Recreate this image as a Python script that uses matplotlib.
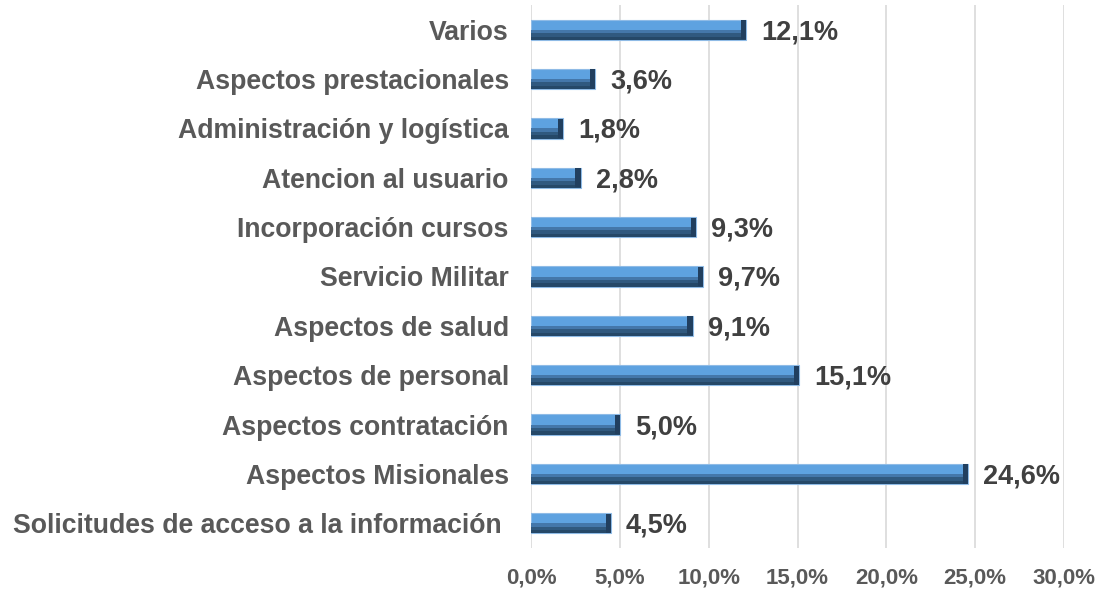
import numpy as np
import matplotlib.pyplot as plt
from matplotlib.ticker import FuncFormatter

categories = ['Solicitudes de acceso a la información ', 'Aspectos Misionales',
              'Aspectos contratación', 'Aspectos de personal', 'Aspectos de salud',
              'Servicio Militar', 'Incorporación cursos', 'Atencion al usuario',
              'Administración y logística', 'Aspectos prestacionales', 'Varios']
values = [4.5, 24.6, 5.0, 15.1, 9.1, 9.7, 9.3, 2.8, 1.8, 3.6, 12.1]
xticks = [0, 5, 10, 15, 20, 25, 30]

plt.rcParams['font.family'] = ['Liberation Sans', 'DejaVu Sans']

fig = plt.figure(figsize=(11.02, 5.91), dpi=100)
ax = fig.add_axes([531 / 1102, 1 - 548 / 591, 533 / 1102, 543 / 591])

y = np.arange(len(categories))
h = 0.41

# bevelled bar look: light body, darker lower half, dark right end
ax.barh(y, values, height=h, color='#5EA2E0', edgecolor='#8FBBE6', linewidth=0.8, zorder=3)
ax.barh(y - h * 0.25, values, height=h * 0.5, color='#4477AA', linewidth=0, zorder=4)
ax.barh(y - h * 0.33, values, height=h * 0.34, color='#30597F', linewidth=0, zorder=4)
ax.barh(y - h * 0.42, values, height=h * 0.16, color='#254868', linewidth=0, zorder=4)
ends = [v - 0.3 for v in values]
ax.barh(y, [0.3] * len(values), left=ends, height=h * 0.95, color='#213F5F', linewidth=0, zorder=5)

for yi, v in zip(y, values):
    ax.text(v + 0.85, yi - 0.05, f'{v:.1f}%'.replace('.', ','), va='center', ha='left',
            fontsize=19.5, fontweight='bold', color='#404040')

ax.set_xlim(0, 30)
ax.set_ylim(-0.5, len(categories) - 0.5)
ax.set_xticks(xticks)
ax.xaxis.set_major_formatter(FuncFormatter(lambda x, p: f'{x:.1f}%'.replace('.', ',')))
ax.set_yticks(y)
ax.set_yticklabels(categories)
ax.grid(axis='x', color='#D9D9D9', linewidth=1.2, zorder=0)
ax.set_axisbelow(True)
for s in ax.spines.values():
    s.set_visible(False)
ax.tick_params(axis='both', length=0, labelcolor='#595959')
ax.tick_params(axis='x', pad=14, labelsize=16)
ax.tick_params(axis='y', pad=16, labelsize=19.2)
for lab in ax.get_xticklabels() + ax.get_yticklabels():
    lab.set_fontweight('bold')

fig.savefig('out.png', dpi=100)
